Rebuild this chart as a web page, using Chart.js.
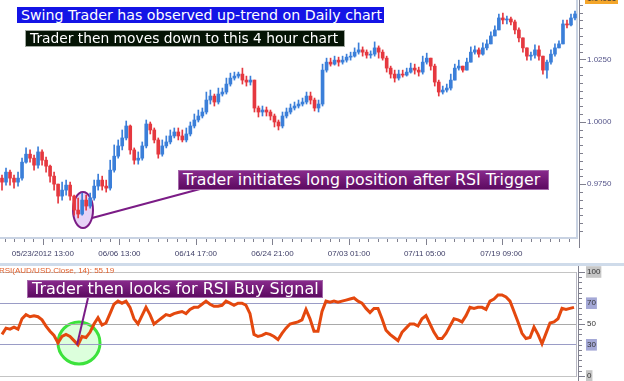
<!DOCTYPE html>
<html lang="en">
<head>
<meta charset="UTF-8">
<title>AUD/USD 4 hour chart with RSI</title>
<script src="https://cdn.jsdelivr.net/npm/chart.js"></script>
<style>
  html, body { margin: 0; padding: 0; background: #fff; }
  #wrap { position: relative; width: 624px; height: 381px; overflow: hidden; font-family: "DejaVu Sans", sans-serif; }
  canvas { position: absolute; left: 0; }
  svg { position: absolute; left: 0; top: 0; }
  .note { position: absolute; color: #fff; white-space: nowrap; box-sizing: border-box; padding-left: 4px; overflow: hidden; }
  .purple { background: linear-gradient(#87298b, #5d0a61); border: 1px solid #a468aa; }
  #sep { position: absolute; left: 0; top: 263px; width: 624px; height: 3px; background: #cfdbea; }
  #rsiLabel { position: absolute; left: -1px; top: 266px; font: 8px "Liberation Sans", sans-serif; color: #e2602c; white-space: nowrap; }
  #lastPrice { position: absolute; left: 585px; width: 33px; height: 11px; background: #f4a62a; color: #333;
               font: 8px "Liberation Sans", sans-serif; line-height: 11px; text-align: center; }
</style>
</head>
<body>
<div id="wrap">
  <svg width="624" height="381">
    <ellipse cx="83" cy="210" rx="10" ry="18" fill="rgba(215,180,242,0.6)" stroke="#7b1c86" stroke-width="2"/>
    <circle cx="79" cy="343" r="21" fill="rgba(205,255,205,0.7)" stroke="#3ce23c" stroke-width="3"/>
  </svg>
  <canvas id="priceChart" width="624" height="262" style="top:0"></canvas>
  <div id="sep"></div>
  <canvas id="rsiChart" width="624" height="115" style="top:266px"></canvas>
  <svg width="624" height="381">
    <line x1="92" y1="218" x2="200" y2="189" stroke="#7b1c86" stroke-width="2"/>
    <line x1="88" y1="298" x2="77" y2="345" stroke="#7b1c86" stroke-width="2"/>
  </svg>
  <div id="lastPrice"></div>
  <div id="rsiLabel">RSI(AUD/USD.Close, 14): 55.19</div>
  <div class="note" style="left:17px;top:7px;width:367px;height:16px;line-height:16px;font-size:14.2px;background:#1414e6;">Swing Trader has observed up-trend on Daily chart</div>
  <div class="note" style="left:25px;top:30px;width:320px;height:17px;line-height:15px;font-size:13.8px;background:#051405;border:1px solid #a0a8a0;">Trader then moves down to this 4 hour chart</div>
  <div class="note purple" style="left:178px;top:170px;width:371px;height:20px;line-height:18px;font-size:15.8px;">Trader initiates long position after RSI Trigger</div>
  <div class="note purple" style="left:27px;top:280px;width:296px;height:18px;line-height:16px;font-size:16px;">Trader then looks for RSI Buy Signal</div>
</div>

<script>
// AUD/USD 4h candles (one per candle, left to right)
const candleOpen = [
  0.9774, 0.9758, 0.9798, 0.9774, 0.9758, 0.9774, 0.9838, 0.9870, 0.9854, 0.9826,
  0.9879, 0.9846, 0.9822, 0.9782, 0.9750, 0.9702, 0.9726, 0.9746, 0.9702, 0.9646,
  0.9630, 0.9686, 0.9662, 0.9694, 0.9742, 0.9766, 0.9742, 0.9734, 0.9806, 0.9862,
  0.9903, 0.9935, 0.9983, 0.9887, 0.9846, 0.9854, 0.9903, 0.9991, 0.9967, 0.9927,
  0.9870, 0.9903, 0.9919, 0.9943, 0.9959, 0.9943, 0.9927, 0.9951, 0.9983, 1.0007,
  1.0023, 1.0039, 1.0087, 1.0103, 1.0079, 1.0111, 1.0119, 1.0151, 1.0175, 1.0183,
  1.0191, 1.0167, 1.0159, 1.0167, 1.0055, 1.0039, 1.0047, 1.0039, 1.0023, 0.9999,
  0.9983, 1.0023, 1.0039, 1.0055, 1.0063, 1.0071, 1.0079, 1.0103, 1.0087, 1.0055,
  1.0071, 1.0207, 1.0239, 1.0231, 1.0247, 1.0239, 1.0247, 1.0259, 1.0263, 1.0279,
  1.0288, 1.0279, 1.0267, 1.0271, 1.0296, 1.0279, 1.0255, 1.0215, 1.0191, 1.0175,
  1.0191, 1.0187, 1.0199, 1.0215, 1.0207, 1.0199, 1.0239, 1.0255, 1.0223, 1.0159,
  1.0119, 1.0127, 1.0135, 1.0167, 1.0215, 1.0223, 1.0207, 1.0239, 1.0279, 1.0288,
  1.0271, 1.0296, 1.0312, 1.0344, 1.0368, 1.0416, 1.0408, 1.0412, 1.0400, 1.0368,
  1.0336, 1.0296, 1.0263, 1.0267, 1.0288, 1.0263, 1.0207, 1.0239, 1.0271, 1.0296,
  1.0312, 1.0392, 1.0388, 1.0416
];
const candleHigh = [
  0.9786, 0.9814, 0.9806, 0.9786, 0.9798, 0.9854, 0.9895, 0.9887, 0.9866, 0.9899,
  0.9887, 0.9858, 0.9826, 0.9798, 0.9750, 0.9758, 0.9766, 0.9758, 0.9706, 0.9694,
  0.9714, 0.9706, 0.9714, 0.9766, 0.9790, 0.9782, 0.9766, 0.9846, 0.9907, 0.9927,
  0.9967, 1.0003, 0.9987, 0.9895, 0.9879, 0.9919, 1.0007, 0.9999, 0.9975, 0.9935,
  0.9927, 0.9943, 0.9967, 0.9975, 0.9975, 0.9967, 0.9975, 0.9999, 1.0031, 1.0047,
  1.0055, 1.0119, 1.0127, 1.0111, 1.0135, 1.0135, 1.0175, 1.0195, 1.0199, 1.0199,
  1.0215, 1.0183, 1.0183, 1.0167, 1.0063, 1.0063, 1.0059, 1.0047, 1.0031, 1.0007,
  1.0039, 1.0055, 1.0071, 1.0079, 1.0087, 1.0095, 1.0119, 1.0119, 1.0095, 1.0087,
  1.0231, 1.0255, 1.0255, 1.0263, 1.0259, 1.0263, 1.0271, 1.0279, 1.0296, 1.0316,
  1.0300, 1.0288, 1.0284, 1.0320, 1.0304, 1.0288, 1.0263, 1.0223, 1.0207, 1.0207,
  1.0207, 1.0215, 1.0235, 1.0231, 1.0219, 1.0263, 1.0275, 1.0255, 1.0231, 1.0167,
  1.0143, 1.0151, 1.0191, 1.0231, 1.0247, 1.0223, 1.0255, 1.0300, 1.0304, 1.0296,
  1.0316, 1.0328, 1.0360, 1.0384, 1.0432, 1.0436, 1.0424, 1.0420, 1.0408, 1.0376,
  1.0336, 1.0296, 1.0279, 1.0308, 1.0304, 1.0263, 1.0247, 1.0288, 1.0312, 1.0324,
  1.0408, 1.0408, 1.0432, 1.0444
];
const candleLow = [
  0.9726, 0.9746, 0.9746, 0.9734, 0.9742, 0.9766, 0.9834, 0.9838, 0.9806, 0.9814,
  0.9826, 0.9798, 0.9758, 0.9726, 0.9674, 0.9686, 0.9706, 0.9686, 0.9626, 0.9614,
  0.9626, 0.9646, 0.9654, 0.9686, 0.9726, 0.9726, 0.9718, 0.9726, 0.9798, 0.9854,
  0.9887, 0.9927, 0.9870, 0.9830, 0.9830, 0.9846, 0.9895, 0.9951, 0.9915, 0.9854,
  0.9862, 0.9895, 0.9911, 0.9935, 0.9927, 0.9919, 0.9919, 0.9943, 0.9975, 0.9999,
  1.0015, 1.0031, 1.0071, 1.0063, 1.0071, 1.0103, 1.0111, 1.0143, 1.0167, 1.0175,
  1.0151, 1.0143, 1.0147, 1.0039, 1.0019, 1.0023, 1.0023, 1.0007, 0.9979, 0.9967,
  0.9975, 1.0015, 1.0031, 1.0047, 1.0055, 1.0063, 1.0071, 1.0071, 1.0043, 1.0039,
  1.0063, 1.0199, 1.0223, 1.0227, 1.0223, 1.0231, 1.0239, 1.0247, 1.0259, 1.0271,
  1.0263, 1.0255, 1.0255, 1.0263, 1.0255, 1.0247, 1.0199, 1.0175, 1.0159, 1.0167,
  1.0179, 1.0183, 1.0195, 1.0191, 1.0183, 1.0191, 1.0231, 1.0207, 1.0143, 1.0103,
  1.0111, 1.0119, 1.0127, 1.0167, 1.0207, 1.0199, 1.0207, 1.0239, 1.0271, 1.0259,
  1.0267, 1.0288, 1.0312, 1.0344, 1.0368, 1.0392, 1.0392, 1.0388, 1.0352, 1.0320,
  1.0279, 1.0247, 1.0247, 1.0255, 1.0247, 1.0191, 1.0175, 1.0231, 1.0263, 1.0296,
  1.0312, 1.0376, 1.0384, 1.0408
];
const candleClose = [
  0.9758, 0.9798, 0.9774, 0.9758, 0.9774, 0.9838, 0.9870, 0.9854, 0.9826, 0.9879,
  0.9846, 0.9822, 0.9782, 0.9750, 0.9702, 0.9726, 0.9746, 0.9702, 0.9646, 0.9630,
  0.9686, 0.9662, 0.9694, 0.9742, 0.9766, 0.9742, 0.9734, 0.9806, 0.9862, 0.9903,
  0.9935, 0.9983, 0.9887, 0.9846, 0.9854, 0.9903, 0.9991, 0.9967, 0.9927, 0.9870,
  0.9903, 0.9919, 0.9943, 0.9959, 0.9943, 0.9927, 0.9951, 0.9983, 1.0007, 1.0023,
  1.0039, 1.0087, 1.0103, 1.0079, 1.0111, 1.0119, 1.0151, 1.0175, 1.0183, 1.0191,
  1.0167, 1.0159, 1.0167, 1.0055, 1.0039, 1.0047, 1.0039, 1.0023, 0.9999, 0.9983,
  1.0023, 1.0039, 1.0055, 1.0063, 1.0071, 1.0079, 1.0103, 1.0087, 1.0055, 1.0071,
  1.0207, 1.0239, 1.0231, 1.0247, 1.0239, 1.0247, 1.0259, 1.0263, 1.0279, 1.0288,
  1.0279, 1.0267, 1.0271, 1.0296, 1.0279, 1.0255, 1.0215, 1.0191, 1.0175, 1.0191,
  1.0187, 1.0199, 1.0215, 1.0207, 1.0199, 1.0239, 1.0255, 1.0223, 1.0159, 1.0119,
  1.0127, 1.0135, 1.0167, 1.0215, 1.0223, 1.0207, 1.0239, 1.0279, 1.0288, 1.0271,
  1.0296, 1.0312, 1.0344, 1.0368, 1.0416, 1.0408, 1.0412, 1.0400, 1.0368, 1.0336,
  1.0296, 1.0263, 1.0267, 1.0288, 1.0263, 1.0207, 1.0239, 1.0271, 1.0296, 1.0312,
  1.0392, 1.0388, 1.0416, 1.0432
];
// RSI(14) per candle
const rsiValues = [
  40, 46, 45, 47, 45, 55, 59, 57, 58, 57,
  54, 48, 43, 39, 32, 38, 40, 38, 34, 30,
  38, 37, 42, 50, 56, 49, 51, 60, 69, 72,
  70, 72, 66, 55, 50, 58, 66, 59, 50, 53,
  56, 59, 58, 60, 61, 62, 60, 64, 66, 66,
  69, 72, 69, 67, 67, 68, 72, 70, 68, 70,
  70, 68, 60, 40, 38, 39, 41, 40, 38, 35,
  41, 46, 50, 51, 52, 54, 64, 55, 43, 43,
  62, 72, 71, 72, 71, 72, 73, 74, 75, 72,
  70, 65, 61, 65, 65, 55, 44, 40, 37, 34,
  42, 46, 50, 50, 48, 55, 58, 50, 42, 36,
  36, 41, 48, 55, 54, 52, 58, 66, 65, 66,
  66, 64, 72, 74, 78, 78, 76, 72, 62, 52,
  41, 36, 37, 47, 40, 31, 41, 51, 52, 55,
  65, 64, 65, 66
];
const lastPrice = 1.04951;

const xTickAt = [10.2, 29.3, 48.4, 67.5, 86.6, 105.5, 124.6];   // candle index under each date label
const xTickLabels = ["05/23/2012 13:00", "06/06 13:00", "06/14 17:00", "06/24 21:00", "07/03 01:00", "07/11 05:00", "07/19 09:00"];
const priceTicks = [0.975, 1.0, 1.025];
const rsiTicks = [0, 30, 50, 70, 100];

const BLUE = '#3b7fd9', RED = '#e5383f';
const candleColor = c => candleClose[c.dataIndex] >= candleOpen[c.dataIndex] ? BLUE : RED;
const tickFont = { family: 'Liberation Sans', size: 8 };

const wicks = candleClose.map((_, i) => ({ x: i, y: [candleLow[i], candleHigh[i]] }));
const bodies = candleClose.map((c, i) => ({ x: i, y: [candleOpen[i], c] }));

// small and big tick marks on the price axes
const priceAxisMarks = {
  id: 'priceAxisMarks',
  afterDraw(chart) {
    const ctx = chart.ctx, xs = chart.scales.x, ys = chart.scales.y, a = chart.chartArea;
    ctx.save();
    ctx.strokeStyle = '#80808e';
    ctx.lineWidth = 1;
    ctx.beginPath();
    const step = (xTickAt[1] - xTickAt[0]) / 8;
    for (let k = -5; k <= 60; k++) {
      const v = xTickAt[0] + k * step;
      if (v < xs.min || v > xs.max) continue;
      const px = Math.round(xs.getPixelForValue(v)) + 0.5;
      ctx.moveTo(px, a.bottom + 1);
      ctx.lineTo(px, a.bottom + 1 + (k % 8 === 0 ? 6 : 3));
    }
    for (let k = -8; k <= 24; k++) {
      const v = 0.975 + k * 0.003125;
      if (v < ys.min || v > ys.max) continue;
      const py = Math.round(ys.getPixelForValue(v)) + 0.5;
      ctx.moveTo(a.right + 2, py);
      ctx.lineTo(a.right + 2 + (k % 8 === 0 ? 7 : 4), py);
    }
    ctx.moveTo(a.right + 2.5, 0);
    ctx.lineTo(a.right + 2.5, a.bottom + 10);
    ctx.stroke();
    ctx.restore();
  }
};

const priceChart = new Chart(document.getElementById('priceChart'), {
  type: 'bar',
  data: {
    datasets: [
      { data: wicks, backgroundColor: candleColor, barThickness: 1, grouped: false, order: 2 },
      { data: bodies, backgroundColor: candleColor, barThickness: 3, grouped: false, minBarLength: 1, order: 1 }
    ]
  },
  options: {
    responsive: false,
    animation: false,
    events: [],
    layout: { padding: 0 },
    plugins: { legend: { display: false }, tooltip: { enabled: false } },
    scales: {
      x: {
        type: 'linear', min: -0.5, max: candleClose.length - 0.5, offset: false,
        grid: { display: false, drawTicks: false },
        border: { display: true, color: '#c9d3e3', width: 2 },
        afterBuildTicks: s => { s.ticks = xTickAt.map(v => ({ value: v })); },
        afterFit: s => { s.height = 24; s.paddingLeft = 0; s.paddingRight = 0; },
        ticks: { autoSkip: false, maxRotation: 0, padding: 11, color: '#3d3d66', font: tickFont,
                 callback: (v, i) => xTickLabels[i] }
      },
      y: {
        position: 'right', min: 0.9534, max: 1.0488,
        grid: { display: false, drawTicks: false },
        border: { display: true, color: '#c9d3e3', width: 2 },
        afterBuildTicks: s => { s.ticks = priceTicks.map(v => ({ value: v })); },
        afterFit: s => { s.width = 47; s.paddingTop = 0; s.paddingBottom = 0; },
        ticks: { padding: 10, color: '#55558a', font: tickFont, callback: v => v.toFixed(4) }
      }
    }
  },
  plugins: [priceAxisMarks]
});

// current price tag on the right axis
const tag = document.getElementById('lastPrice');
tag.textContent = lastPrice.toFixed(5);
tag.style.top = (priceChart.scales.y.getPixelForValue(lastPrice) - 5.5) + 'px';

const rsiAxisMarks = {
  id: 'rsiAxisMarks',
  afterDraw(chart) {
    const ctx = chart.ctx, ys = chart.scales.y, a = chart.chartArea;
    ctx.save();
    ctx.strokeStyle = '#80808e';
    ctx.lineWidth = 1;
    ctx.beginPath();
    for (let v = 0; v <= 100; v += 5) {
      const py = Math.round(ys.getPixelForValue(v)) + 0.5;
      ctx.moveTo(a.right + 2, py);
      ctx.lineTo(a.right + 2 + (v % 50 === 0 ? 7 : 4), py);
    }
    ctx.moveTo(a.right + 2.5, 0);
    ctx.lineTo(a.right + 2.5, chart.height);
    ctx.stroke();
    ctx.restore();
  }
};

const levelColor = v => (v === 30 || v === 70) ? '#9a9cc6' : (v === 50 ? '#a9a9a9' : '#c4c4c4');

new Chart(document.getElementById('rsiChart'), {
  type: 'line',
  data: {
    datasets: [{
      data: rsiValues.map((v, i) => ({ x: i, y: v })),
      borderColor: '#e4480e', borderWidth: 3, pointRadius: 0, tension: 0, fill: false
    }]
  },
  options: {
    responsive: false,
    animation: false,
    events: [],
    layout: { padding: { top: 6, bottom: 5, left: 0, right: 0 } },
    plugins: { legend: { display: false }, tooltip: { enabled: false } },
    scales: {
      x: { type: 'linear', display: false, min: -0.5, max: rsiValues.length - 0.5 },
      y: {
        position: 'right', min: 0, max: 100,
        grid: { drawTicks: false, color: c => levelColor(c.tick.value), lineWidth: 1 },
        border: { display: true, color: '#b8b8c4', width: 1 },
        afterBuildTicks: s => { s.ticks = rsiTicks.map(v => ({ value: v })); },
        afterFit: s => { s.width = 48; s.paddingTop = 0; s.paddingBottom = 0; },
        ticks: {
          padding: 11, color: '#333', font: tickFont,
          showLabelBackdrop: true, backdropPadding: 1,
          backdropColor: c => (c.tick.value === 30 || c.tick.value === 70) ? '#a4a8d6' : (c.tick.value === 50 ? 'rgba(0,0,0,0)' : '#c6c6c6')
        }
      }
    }
  },
  plugins: [rsiAxisMarks]
});
</script>
</body>
</html>
